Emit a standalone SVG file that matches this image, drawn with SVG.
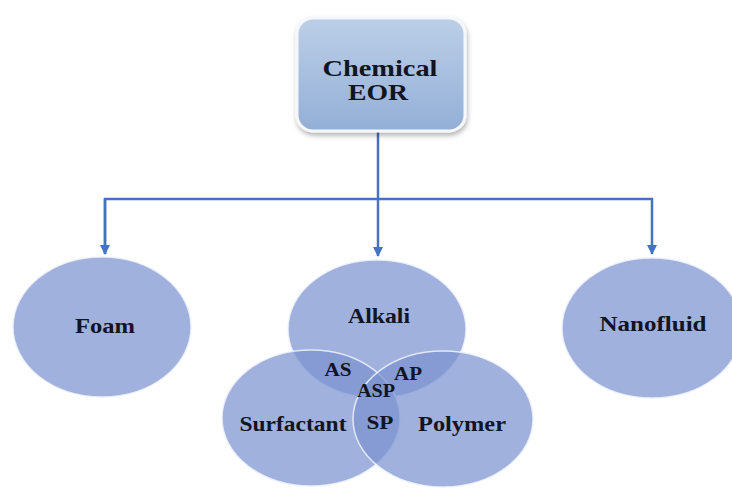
<svg xmlns="http://www.w3.org/2000/svg" width="732" height="488" viewBox="0 0 732 488">
  <defs>
    <linearGradient id="boxGrad" x1="0" y1="0" x2="0" y2="1">
      <stop offset="0" stop-color="#bccfe7"/>
      <stop offset="1" stop-color="#93afd7"/>
    </linearGradient>
    <filter id="shadow" x="-20%" y="-20%" width="140%" height="140%">
      <feDropShadow dx="1" dy="3" stdDeviation="2.5" flood-color="#000" flood-opacity="0.3"/>
    </filter>
    <marker id="arrow" viewBox="0 0 10 10" refX="9" refY="5" markerWidth="4" markerHeight="4" orient="auto" markerUnits="strokeWidth">
      <path d="M0,0 L10,5 L0,10 z" fill="#4472c4"/>
    </marker>
    <style>
      .lbl { font-family: "Liberation Serif", "Times New Roman", serif; font-weight: bold; fill: #111522; text-anchor: middle; }
      .big { font-size: 23px; }
      .node { font-size: 21px; }
      .small { font-size: 19px; }
      .circ { fill: #7b93d0; fill-opacity: 0.72; stroke: #eef2fa; stroke-opacity: 0.85; stroke-width: 1.5; }
      .conn { fill: none; stroke: #4472c4; stroke-width: 2.5; }
    </style>
  </defs>
  <rect width="732" height="488" fill="#ffffff"/>

  <g id="connectors">
    <line class="conn" x1="378" y1="131" x2="378" y2="256" marker-end="url(#arrow)"/>
    <polyline class="conn" points="105,254 105,199 652,199 652,254" marker-end="url(#arrow)"/>
    <line class="conn" x1="105" y1="199" x2="105" y2="254" marker-end="url(#arrow)"/>
  </g>

  <g id="chemical-eor">
    <rect x="297" y="18" width="168" height="113" rx="16" fill="url(#boxGrad)" stroke="#f5f7fb" stroke-width="3" filter="url(#shadow)"/>
    <text class="lbl big" x="380" y="76" textLength="115" lengthAdjust="spacingAndGlyphs">Chemical</text>
    <text class="lbl big" x="378" y="100" textLength="60" lengthAdjust="spacingAndGlyphs">EOR</text>
  </g>

  <g id="foam">
    <ellipse class="circ" cx="102" cy="327" rx="89" ry="70"/>
    <text class="lbl node" x="105" y="333" textLength="60" lengthAdjust="spacingAndGlyphs">Foam</text>
  </g>

  <g id="nanofluid">
    <ellipse class="circ" cx="652" cy="328" rx="90" ry="70"/>
    <text class="lbl node" x="653" y="331" textLength="107" lengthAdjust="spacingAndGlyphs">Nanofluid</text>
  </g>

  <g id="alkali">
    <ellipse class="circ" cx="377" cy="329" rx="89" ry="69"/>
    <text class="lbl node" x="379" y="323" textLength="62" lengthAdjust="spacingAndGlyphs">Alkali</text>
  </g>

  <g id="surfactant">
    <ellipse class="circ" cx="311" cy="418" rx="89" ry="68"/>
    <text class="lbl node" x="293" y="431" textLength="107" lengthAdjust="spacingAndGlyphs">Surfactant</text>
  </g>

  <g id="polymer">
    <ellipse class="circ" cx="443" cy="419" rx="90" ry="68"/>
    <text class="lbl node" x="462" y="431" textLength="88" lengthAdjust="spacingAndGlyphs">Polymer</text>
  </g>

  <g id="overlaps">
    <text class="lbl small" x="338" y="376" textLength="27" lengthAdjust="spacingAndGlyphs">AS</text>
    <text class="lbl small" x="408" y="380" textLength="28" lengthAdjust="spacingAndGlyphs">AP</text>
    <text class="lbl small" x="376" y="397" textLength="38" lengthAdjust="spacingAndGlyphs">ASP</text>
    <text class="lbl small" x="380" y="429" textLength="27" lengthAdjust="spacingAndGlyphs">SP</text>
  </g>
</svg>
